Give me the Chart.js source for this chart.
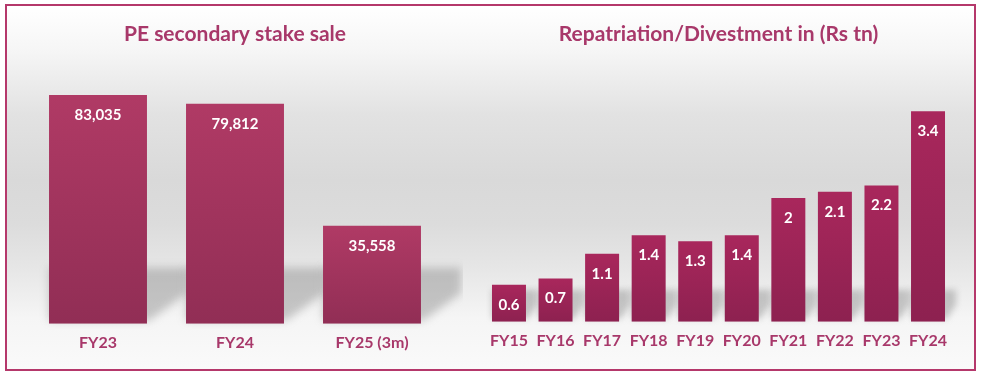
<!DOCTYPE html>
<html>
<head>
<meta charset="utf-8">
<script src="https://cdn.jsdelivr.net/npm/chart.js@4.4.1/dist/chart.umd.min.js"></script>
<style>
  body { margin: 0; background: #fff; width: 981px; height: 373px; position: relative; overflow: hidden; }
  .panel {
    position: absolute; top: 4px; height: 363px; box-sizing: content-box;
    border: 2px solid #b5386b;
    background: linear-gradient(to bottom, #ffffff 0%, #f6f6f6 12%, #e2e2e2 30%, #d9d9d9 48%, #dcdcdc 60%, #e6e6e6 72%, #f5f5f5 86%, #fafafa 100%);
  }
  #left { left: 5px; width: 456px; }
  #right { left: 463px; width: 511px; border-left: none; }
  canvas { position: absolute; left: 0; top: 0; }
</style>
</head>
<body>
<div class="panel" id="left"><canvas id="peChart" width="456" height="363"></canvas></div>
<div class="panel" id="right"><canvas id="repChart" width="511" height="363"></canvas></div>
<script>
// PE secondary stake sale
let peYears = ['FY23', 'FY24', 'FY25 (3m)'];
let peValues = [83035, 79812, 35558];

// Repatriation / divestment (Rs tn)
let repYears = ['FY15', 'FY16', 'FY17', 'FY18', 'FY19', 'FY20', 'FY21', 'FY22', 'FY23', 'FY24'];
let repValues = [0.6, 0.7, 1.1, 1.4, 1.3, 1.4, 2, 2.1, 2.2, 3.4];

let textColor = '#a8386a';
let font = 'Lato';

// bar gradient, top to bottom of each bar
function barFill(topColor, bottomColor) {
  return function(ctx) {
    var chart = ctx.chart;
    if (!chart.chartArea || !chart.scales.y) return topColor;
    var y = chart.scales.y;
    var top = y.getPixelForValue(ctx.raw);
    var bot = y.getPixelForValue(0);
    var g = chart.ctx.createLinearGradient(0, top, 0, bot);
    g.addColorStop(0, topColor);
    g.addColorStop(1, bottomColor);
    return g;
  };
}

// soft shadow on the floor behind the bars
let floorShadow = {
  id: 'floorShadow',
  beforeDatasetsDraw(chart, args, opts) {
    var ctx = chart.ctx;
    var meta = chart.getDatasetMeta(0);
    ctx.save();
    ctx.filter = 'blur(' + opts.blur + 'px)';
    ctx.fillStyle = opts.color;
    meta.data.forEach(bar => {
      var p = bar.getProps(['x', 'y', 'width', 'base'], true);
      var l = p.x - p.width / 2, r = p.x + p.width / 2;
      var top = Math.max(p.base - opts.height, p.y);
      ctx.beginPath();
      ctx.moveTo(l, top);
      ctx.lineTo(r + opts.ext, top);
      ctx.lineTo(r + opts.ext, p.base - opts.height * 0.55);
      ctx.lineTo(r + 2, p.base - 3);
      ctx.lineTo(l, p.base - 3);
      ctx.closePath();
      ctx.fill();
    });
    ctx.restore();
  }
};

// white value labels inside the top of each bar
let valueLabels = {
  id: 'valueLabels',
  afterDatasetsDraw(chart, args, opts) {
    var ctx = chart.ctx;
    var meta = chart.getDatasetMeta(0);
    var values = chart.data.datasets[0].data;
    ctx.save();
    ctx.font = '700 15px ' + font;
    ctx.fillStyle = '#ffffff';
    ctx.textAlign = 'center';
    ctx.textBaseline = 'middle';
    meta.data.forEach((bar, i) => {
      var txt = opts.format(values[i]);
      ctx.fillText(txt, bar.x, bar.y + 20);
    });
    ctx.restore();
  }
};

function makeChart(id, labels, values, cfg) {
  return new Chart(document.getElementById(id), {
    type: 'bar',
    data: {
      labels: labels,
      datasets: [{
        data: values,
        backgroundColor: barFill(cfg.top, cfg.bottom),
        borderWidth: 0,
        categoryPercentage: 1,
        barPercentage: cfg.barPct
      }]
    },
    options: {
      responsive: false,
      animation: false,
      events: [],
      layout: { padding: { left: cfg.side, right: cfg.side, top: 0, bottom: cfg.bottomPad } },
      scales: {
        x: {
          grid: { display: false, drawTicks: false },
          border: { display: false },
          ticks: { color: textColor, font: { family: font, size: 16, weight: '700' }, padding: 9 }
        },
        y: { display: false, min: 0, max: cfg.max }
      },
      plugins: {
        legend: { display: false },
        tooltip: { enabled: false },
        title: {
          display: true,
          text: cfg.title,
          color: textColor,
          font: { family: font, size: 21, weight: '700' },
          padding: { top: 16, bottom: cfg.titleGap }
        },
        floorShadow: cfg.shadow,
        valueLabels: { format: cfg.format }
      }
    },
    plugins: [floorShadow, valueLabels]
  });
}

makeChart('peChart', peYears, peValues, {
  title: 'PE secondary stake sale',
  top: '#b03a65', bottom: '#912e55',
  barPct: 0.715, side: 22.5, bottomPad: 8, max: 100000, titleGap: 1,
  shadow: { color: 'rgba(110,110,110,0.35)', blur: 4, height: 56, ext: 40 },
  format: v => v.toLocaleString('en-US')
});

makeChart('repChart', repYears, repValues, {
  title: 'Repatriation/Divestment in (Rs tn)',
  top: '#a9275c', bottom: '#8d2150',
  barPct: 0.73, side: 22.7, bottomPad: 10, max: 4, titleGap: 27,
  shadow: { color: 'rgba(110,110,110,0.35)', blur: 3, height: 32, ext: 11 },
  format: v => String(v)
});
</script>
</body>
</html>
